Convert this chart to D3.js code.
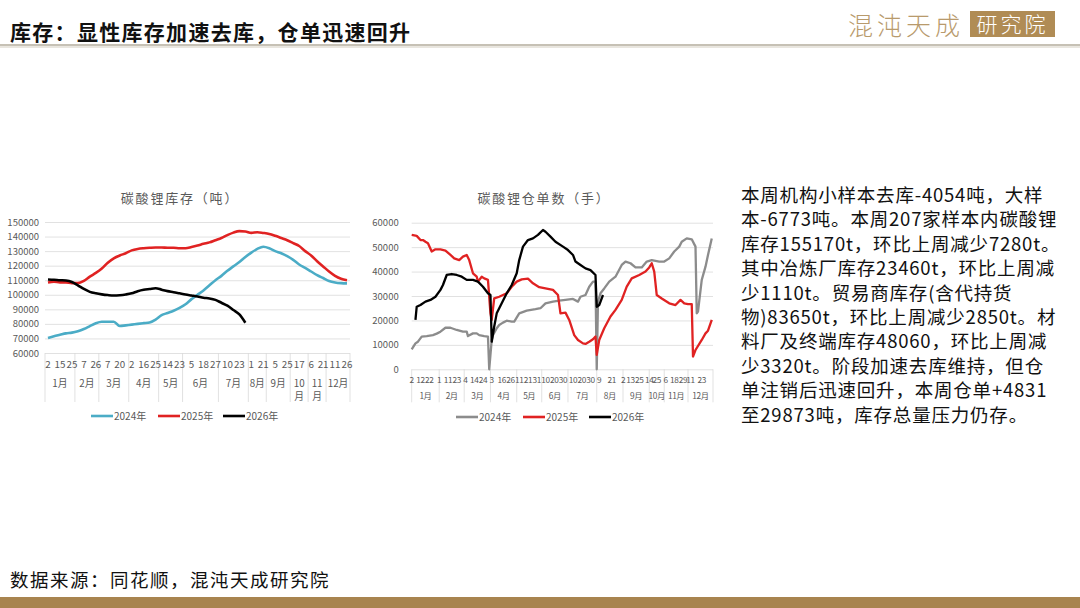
<!DOCTYPE html>
<html>
<head>
<meta charset="utf-8">
<script src="https://cdn.jsdelivr.net/npm/d3@7"></script>
<style>
  html, body { margin: 0; padding: 0; background: #fff; }
  svg { display: block; font-family: "Noto Sans CJK SC", "Microsoft YaHei", sans-serif; }
</style>
</head>
<body>
<svg id="slide" width="1080" height="608"></svg>
<script>
// ---- left chart: 碳酸锂库存（吨）, weekly ----
const leftMonths = ['1月','2月','3月','4月','5月','6月','7月','8月','9月','10月','11月','12月'];
const leftMonthWeeks = [5,4,5,5,4,6,5,3,4,3,3,4];
const leftDayLabels = ['2','15','25','7','26','7','20','2','16','25','14','23','5','18','27','10','23','1','21','5','25','17','6','21','11','26'];
const leftLabelStep = 2;
const leftYTicks = [60000,70000,80000,90000,100000,110000,120000,130000,140000,150000];

const stock2024 = [70300,71500,72500,73500,74000,75000,76500,78500,80500,81500,
                   81500,81500,78500,79000,79500,80000,80500,81000,83000,86000,
                   87500,89000,91000,93500,97000,100000,103000,106500,110000,113000,
                   116500,119500,122500,126000,129000,131500,133000,132000,130000,128500,
                   126500,124000,120800,118500,116000,113500,111500,109500,108500,108000,107800];
const stock2025 = [108500,109000,108500,108500,108000,108000,109500,112500,115000,118000,
                   122000,125000,127000,128500,130500,131500,132000,132300,132500,132500,
                   132300,132300,132000,132000,132800,133800,135000,136000,137500,139000,
                   141000,142700,143700,143500,142500,143000,142500,141800,140500,139000,
                   137500,135500,133500,130000,127000,123000,119500,116000,113000,111000,110000];
const stock2026 = [110500,110300,110000,109800,108800,106500,104000,102000,101000,100300,
                   99800,99500,99700,100200,101000,102500,103500,104000,104500,103500,
                   102500,101800,101000,100200,99500,98800,98000,97500,96500,94500,
                   92500,89500,86500,80800];

// ---- right chart: 碳酸锂仓单数（手）, daily, [trading-day index, lots] ----
const rightMonths = ['1月','2月','3月','4月','5月','6月','7月','8月','9月','10月','11月','12月'];
const rightMonthDays = [22,20,21,21,20,21,23,21,21,12,19,20];
const rightDayLabels = ['2','12','22','1','11','23','4','14','24','3','16','26','11','21','31',
                        '10','20','30','10','20','30','9','21','2','13','25','14','25','6','18','29','11','23'];
const rightLabelIdx = [0,7,14,22,29,36,43,50,57,64,72,79,86,93,100,107,114,121,
                       129,136,143,150,160,169,175,182,190,196,203,210,217,223,232];
const rightYTicks = [0,10000,20000,30000,40000,50000,60000];

const wr2024 = [[0,8200],[3,10600],[5,11300],[8,13400],[12,13600],[17,14000],[20,14600],[23,15400],
  [27,17000],[31,17000],[36,16100],[41,15400],[44,15400],[45,13600],[49,14700],[52,14700],[54,14000],
  [58,13600],[61,13400],[62,0],[64,12000],[65,14000],[68,16800],[70,18100],[73,19100],[76,19900],
  [80,19500],[82,19500],[86,22900],[92,24000],[99,24600],[103,25000],[107,27000],[113,27700],
  [118,28100],[123,28400],[129,28800],[133,27700],[135,29700],[139,30400],[142,33800],[145,35900],
  [147,35900],[148,0],[149,27700],[151,31100],[154,33100],[158,35900],[163,37900],[168,42700],
  [171,44100],[175,43400],[179,41700],[184,41700],[188,44100],[192,44700],[198,44100],[202,44100],
  [206,45400],[210,48200],[214,50200],[216,52200],[220,53600],[224,53200],[227,50200],[228,22900],
  [229,23600],[232,36600],[235,42000],[237,46800],[240,53500]];
const wr2025 = [[0,55000],[4,54600],[7,52900],[9,52900],[11,52200],[13,51600],[16,48200],[19,49100],
  [23,49100],[27,48600],[31,46800],[34,45400],[38,44700],[41,46100],[44,46800],[46,44700],[49,39300],
  [52,37900],[53,35900],[56,37900],[58,37200],[61,36600],[63,22900],[64,20200],[66,29000],[70,29700],
  [76,31100],[80,33800],[84,35900],[88,36800],[93,37100],[97,35200],[102,33600],[107,33100],
  [113,32500],[117,30400],[119,22900],[123,23200],[126,20200],[130,14000],[133,12000],[137,10600],
  [139,10400],[142,11300],[145,12300],[147,13400],[148,5900],[150,12000],[154,16800],[159,21600],
  [163,24300],[168,28400],[172,33800],[176,37200],[182,38600],[187,40000],[190,41700],[192,43400],
  [194,40000],[196,30400],[200,29000],[206,27000],[211,26300],[215,28400],[218,27000],[221,26700],
  [224,26700],[225,5200],[227,7900],[232,12000],[235,14700],[237,15800],[240,20200]];
const wr2026 = [[3,20200],[4,25600],[7,26300],[11,27700],[15,28400],[19,29700],[23,32500],[25,34500],
  [28,38600],[32,39000],[36,38600],[40,37900],[44,36600],[49,36600],[53,35900],[57,33800],[61,31100],
  [63,30400],[64,11300],[66,17500],[68,22900],[72,27000],[76,31100],[80,34500],[84,39300],[86,44700],
  [89,50200],[93,52900],[97,53600],[101,55000],[105,57000],[107,56300],[111,54300],[115,52200],
  [121,50200],[125,48800],[129,46800],[131,44100],[135,42700],[139,41300],[143,40600],[147,38600],
  [148,25600],[150,26300],[153,30400]];

// ---- slide text ----
const slideTitle = '库存：显性库存加速去库，仓单迅速回升';
const sourceNote = '数据来源：同花顺，混沌天成研究院';
const commentLines = [
  '本周机构小样本去库-4054吨，大样',
  '本-6773吨。本周207家样本内碳酸锂',
  '库存155170t，环比上周减少7280t。',
  '其中冶炼厂库存23460t，环比上周减',
  '少1110t。贸易商库存(含代持货',
  '物)83650t，环比上周减少2850t。材',
  '料厂及终端库存48060，环比上周减',
  '少3320t。阶段加速去库维持，但仓',
  '单注销后迅速回升，本周仓单+4831',
  '至29873吨，库存总量压力仍存。'
];

const svg = d3.select('#slide');
const axisGrey = '#595959';
const gridGrey = '#d9d9d9';

// header
svg.append('text').attr('x', 10).attr('y', 40)
  .attr('font-size', 21).attr('font-weight', 700).attr('letter-spacing', 1.3)
  .attr('fill', '#111').text(slideTitle);
svg.append('rect').attr('x', 0).attr('y', 44).attr('width', 1080).attr('height', 2).attr('fill', '#c6c1b5');
svg.append('rect').attr('x', 0).attr('y', 46).attr('width', 1080).attr('height', 2).attr('fill', '#e9e6df');

// logo
svg.append('text').attr('x', 848).attr('y', 35)
  .attr('font-size', 25).attr('font-weight', 300).attr('letter-spacing', 4)
  .attr('fill', '#b89a6c').text('混沌天成');
svg.append('rect').attr('x', 970).attr('y', 11).attr('width', 85).attr('height', 26).attr('fill', '#b08c55');
svg.append('text').attr('x', 1012.5).attr('y', 32).attr('text-anchor', 'middle')
  .attr('font-size', 21).attr('font-weight', 300).attr('letter-spacing', 3)
  .attr('fill', '#fff').text('研究院');

// footer
svg.append('text').attr('x', 10).attr('y', 587)
  .attr('font-size', 18.5).attr('letter-spacing', 1.5)
  .attr('fill', '#111').text(sourceNote);
svg.append('rect').attr('x', 0).attr('y', 597).attr('width', 1080).attr('height', 11).attr('fill', '#a8844f');

// commentary
svg.append('g').selectAll('text').data(commentLines).join('text')
  .attr('x', 741).attr('y', (d, i) => 202 + i * 24.4)
  .attr('font-size', 18.5).attr('letter-spacing', 0.8)
  .attr('fill', '#111').text(d => d);

// category axis with day row + month row
function categoryAxis(g, x, y0, counts, monthNames, labelIdx, labelText, opt) {
  const cum = [0];
  counts.forEach(c => cum.push(cum[cum.length - 1] + c));
  g.append('g').selectAll('line').data(cum).join('line')
    .attr('x1', d => x(d)).attr('x2', d => x(d))
    .attr('y1', y0).attr('y2', y0 + opt.sepLen)
    .attr('stroke', gridGrey).attr('stroke-width', 0.8);
  g.append('g').selectAll('text').data(labelText).join('text')
    .attr('x', (d, i) => x(labelIdx[i] + opt.offset))
    .attr('y', y0 + opt.dayDy)
    .attr('text-anchor', 'middle').attr('font-size', opt.fs)
    .attr('letter-spacing', opt.ls || 0)
    .attr('fill', axisGrey).text(d => d);
  const mon = g.append('g').selectAll('text').data(monthNames).join('text')
    .attr('x', (d, i) => x((cum[i] + cum[i + 1]) / 2))
    .attr('y', y0 + opt.monDy)
    .attr('text-anchor', 'middle').attr('font-size', opt.fs)
    .attr('letter-spacing', opt.ls || 0)
    .attr('fill', axisGrey).text(d => d);
  if (!opt.wrap) return;
  // wrap month names that do not fit their block
  mon.each(function(d, i) {
    const w = x(cum[i + 1]) - x(cum[i]);
    if (this.getComputedTextLength() > w - 2) {
      const t = d3.select(this).text(null);
      const cx = t.attr('x');
      t.append('tspan').attr('x', cx).text(d.slice(0, -1));
      t.append('tspan').attr('x', cx).attr('dy', opt.fs * 1.35).text(d.slice(-1));
    }
  });
}

function valueAxis(g, y, ticks, left, width, pad) {
  const ax = g.append('g').attr('transform', `translate(${left},0)`)
    .call(d3.axisLeft(y).tickValues(ticks).tickSize(-width).tickPadding(pad).tickFormat(d3.format('d')));
  ax.select('.domain').remove();
  ax.selectAll('.tick line').attr('stroke', gridGrey).attr('stroke-width', 0.8);
  ax.selectAll('.tick text').attr('fill', axisGrey).attr('font-size', 9.5)
    .attr('font-family', '"Noto Sans CJK SC", sans-serif');
}

function legend(g, items, y) {
  items.forEach(it => {
    g.append('line').attr('x1', it.x).attr('x2', it.x + 22).attr('y1', y).attr('y2', y)
      .attr('stroke', it.color).attr('stroke-width', 2.6);
    g.append('text').attr('x', it.x + 23).attr('y', y + 3.5)
      .attr('font-size', 10).attr('fill', axisGrey).text(it.name);
  });
}

// ---------- left chart ----------
const nWeeks = d3.sum(leftMonthWeeks);
const xL = d3.scaleLinear().domain([0, nWeeks]).range([45, 350]);
const yL = d3.scaleLinear().domain([60000, 150000]).range([353, 222]);
const gLeft = svg.append('g');

gLeft.append('text').attr('x', 180).attr('y', 203).attr('text-anchor', 'middle')
  .attr('font-size', 13).attr('letter-spacing', 1.8).attr('fill', axisGrey).text('碳酸锂库存（吨）');
valueAxis(gLeft, yL, leftYTicks, 45, 305, 6);
categoryAxis(gLeft, xL, 353, leftMonthWeeks, leftMonths,
  leftDayLabels.map((d, i) => i * leftLabelStep), leftDayLabels,
  { offset: 0.5, sepLen: 49, dayDy: 15, monDy: 34, fs: 9.8, wrap: true });

const lineL = d3.line().x((d, i) => xL(i + 0.5)).y(d => yL(d)).curve(d3.curveMonotoneX);
[[stock2024, '#4bacc6'], [stock2025, '#e02222'], [stock2026, '#000']].forEach(([s, c]) => {
  gLeft.append('path').datum(s).attr('d', lineL)
    .attr('fill', 'none').attr('stroke', c).attr('stroke-width', 2.6).attr('stroke-linejoin', 'round');
});
legend(gLeft, [
  { x: 91, name: '2024年', color: '#4bacc6' },
  { x: 158, name: '2025年', color: '#e02222' },
  { x: 223, name: '2026年', color: '#000' }
], 416);

// ---------- right chart ----------
const nDays = d3.sum(rightMonthDays);
const xR = d3.scaleLinear().domain([0, nDays]).range([411.7, 713]);
const yR = d3.scaleLinear().domain([0, 60000]).range([369.3, 222.7]);
const gRight = svg.append('g');

gRight.append('text').attr('x', 544).attr('y', 203).attr('text-anchor', 'middle')
  .attr('font-size', 13).attr('letter-spacing', 1.8).attr('fill', axisGrey).text('碳酸锂仓单数（手）');
valueAxis(gRight, yR, rightYTicks, 411.7, 301.3, 13);
categoryAxis(gRight, xR, 369.3, rightMonthDays, rightMonths, rightLabelIdx, rightDayLabels,
  { offset: 0, sepLen: 33, dayDy: 14, monDy: 30, fs: 8.3, ls: -0.4, wrap: false });

const lineR = d3.line().x(d => xR(d[0])).y(d => yR(d[1]));
[[wr2024, '#8c8c8c'], [wr2025, '#e02222'], [wr2026, '#000']].forEach(([s, c]) => {
  gRight.append('path').datum(s).attr('d', lineR)
    .attr('fill', 'none').attr('stroke', c).attr('stroke-width', 2.3).attr('stroke-linejoin', 'round');
});
legend(gRight, [
  { x: 456, name: '2024年', color: '#8c8c8c' },
  { x: 523, name: '2025年', color: '#e02222' },
  { x: 589, name: '2026年', color: '#000' }
], 417);
</script>
</body>
</html>
